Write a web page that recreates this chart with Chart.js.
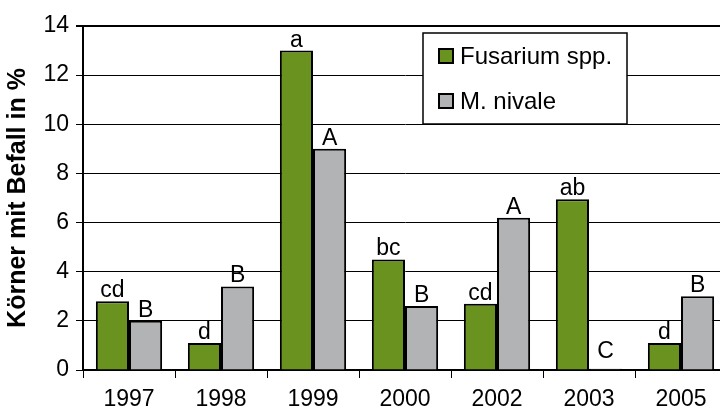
<!DOCTYPE html>
<html>
<head>
<meta charset="utf-8">
<script src="https://cdn.jsdelivr.net/npm/chart.js@4"></script>
<style>
  html, body { margin: 0; padding: 0; overflow: hidden; background: #fff; }
  #wrap { width: 728px; height: 407px; }
</style>
</head>
<body>
<div id="wrap"><canvas id="c" width="728" height="407"></canvas></div>
<script>
// Infected kernels per year
const years = ['1997', '1998', '1999', '2000', '2002', '2003', '2005'];
const fusarium = [2.8, 1.1, 13.0, 4.5, 2.7, 6.95, 1.1];
const nivale = [2.0, 3.4, 9.0, 2.6, 6.2, 0.05, 3.0];
// significance letters shown above the bars
const fusariumLetters = ['cd', 'd', 'a', 'bc', 'cd', 'ab', 'd'];
const nivaleLetters = ['B', 'B', 'A', 'B', 'A', 'C', 'B'];
const yMin = 0, yMax = 14, yStep = 2;

const FONT = "'Liberation Sans', Arial, Helvetica, sans-serif";

// letters above each bar
const letterPlugin = {
  id: 'letters',
  afterDatasetsDraw(chart) {
    const ctx = chart.ctx;
    const zeroY = chart.scales.y.getPixelForValue(0);
    ctx.save();
    ctx.font = '23px ' + FONT;
    ctx.fillStyle = '#000';
    ctx.textAlign = 'center';
    ctx.textBaseline = 'alphabetic';
    chart.data.datasets.forEach((ds, di) => {
      const meta = chart.getDatasetMeta(di);
      meta.data.forEach((bar, i) => {
        const y = Math.min(bar.y - 4, zeroY - 12);
        ctx.fillText(ds.letters[i], bar.x, y);
      });
    });
    ctx.restore();
  }
};

// boxed legend inside the plot
const boxLegend = {
  id: 'boxLegend',
  afterDraw(chart) {
    const ctx = chart.ctx;
    const bx = 423, by = 33, bw = 204, bh = 91;
    ctx.save();
    ctx.fillStyle = '#fff';
    ctx.fillRect(bx, by, bw, bh);
    ctx.strokeStyle = '#000';
    ctx.lineWidth = 1.5;
    ctx.strokeRect(bx, by, bw, bh);
    ctx.font = '24px ' + FONT;
    ctx.textAlign = 'left';
    ctx.textBaseline = 'middle';
    chart.data.datasets.forEach((ds, i) => {
      const cy = 56 + i * 45;
      ctx.fillStyle = ds.backgroundColor;
      ctx.fillRect(439, cy - 7, 14, 14);
      ctx.lineWidth = 2;
      ctx.strokeStyle = '#000';
      ctx.strokeRect(439, cy - 7, 14, 14);
      ctx.fillStyle = '#000';
      ctx.fillText(ds.label, 460, cy + 1);
    });
    ctx.restore();
  }
};

new Chart(document.getElementById('c'), {
  type: 'bar',
  data: {
    labels: years,
    datasets: [
      { label: 'Fusarium spp.', data: fusarium, letters: fusariumLetters,
        backgroundColor: '#6a921e', borderColor: '#000', borderWidth: 2 },
      { label: 'M. nivale', data: nivale, letters: nivaleLetters,
        backgroundColor: '#b2b3b5', borderColor: '#000', borderWidth: 2 }
    ]
  },
  options: {
    responsive: false,
    animation: false,
    devicePixelRatio: 1,
    layout: { padding: { left: 0, top: 26, right: 1, bottom: 0 } },
    datasets: { bar: { categoryPercentage: 0.72, barPercentage: 1.0 } },
    plugins: { legend: { display: false }, tooltip: { enabled: false } },
    scales: {
      x: {
        afterFit(scale) { scale.height = 37; },
        grid: { offset: true, drawOnChartArea: false, drawTicks: true, tickLength: 8, color: '#000', lineWidth: 1 },
        border: { display: true, color: '#000', width: 2 },
        ticks: { color: '#000', font: { family: FONT, size: 23 }, padding: 8, maxRotation: 0 }
      },
      y: {
        min: yMin, max: yMax,
        afterFit(scale) { scale.width = 83; },
        ticks: { stepSize: yStep, color: '#000', font: { family: FONT, size: 23 }, padding: 7 },
        grid: {
          color: '#000',
          lineWidth: (c) => (c.tick && c.tick.value === yMax ? 2 : 1),
          tickLength: 7
        },
        border: { display: true, color: '#000', width: 2 },
        title: {
          display: true,
          text: 'Körner mit Befall in %',
          color: '#000',
          font: { family: FONT, size: 25, weight: 'bold' },
          padding: { top: 3, bottom: 0 }
        }
      }
    }
  },
  plugins: [letterPlugin, boxLegend]
});
</script>
</body>
</html>
